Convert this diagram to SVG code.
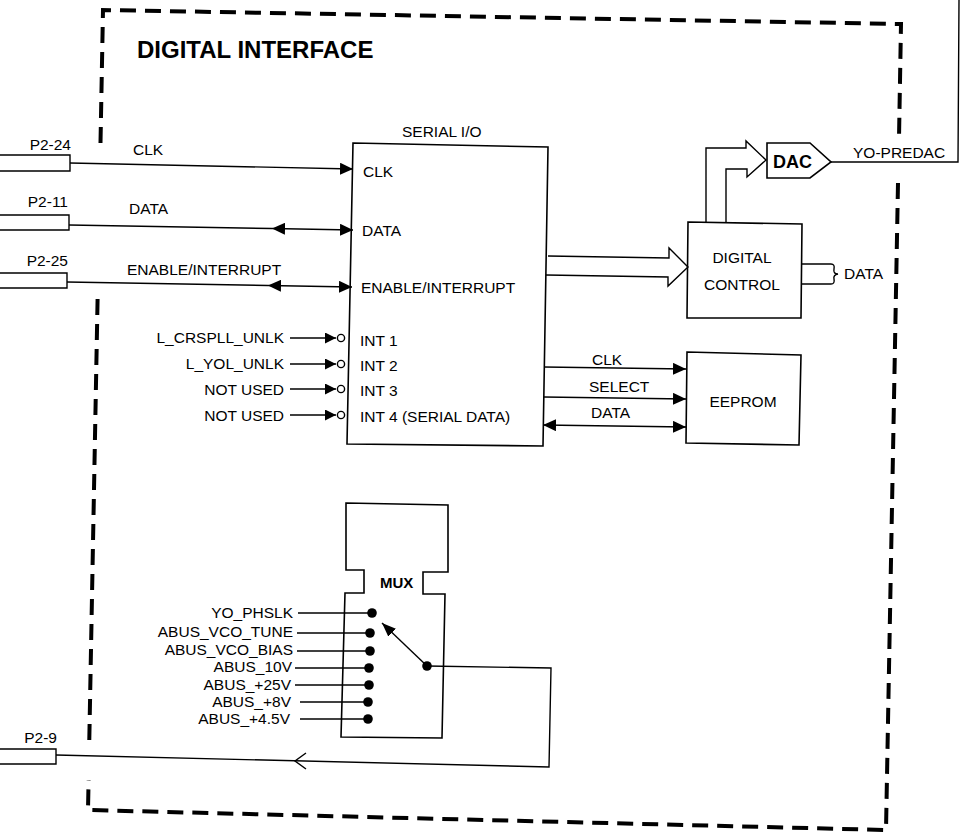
<svg xmlns="http://www.w3.org/2000/svg" width="964" height="835" viewBox="0 0 964 835">
<style>
  text { font-family: "Liberation Sans", Arial, sans-serif; font-size: 15.5px; fill: #000; }
  .b { font-weight: bold; }
  .end { text-anchor: end; }
  .mid { text-anchor: middle; }
  .ln { fill: none; stroke: #000; stroke-width: 1.4; }
  .box { fill: #fff; stroke: #000; stroke-width: 1.6; }
  .frame { fill: none; stroke: #000; stroke-width: 4; stroke-dasharray: 16 9; }
  .dot { fill: #000; }
  .ring { fill: #fff; stroke: #000; stroke-width: 1.4; }
</style>
<defs>
  <marker id="ah" viewBox="0 0 13 12" refX="13" refY="6" markerWidth="13" markerHeight="12" markerUnits="userSpaceOnUse" orient="auto-start-reverse">
    <path d="M0,0 L13,6 L0,12 z" fill="#000"/>
  </marker>
  <marker id="ahs" viewBox="0 0 11 11" refX="11" refY="5.5" markerWidth="11" markerHeight="11" markerUnits="userSpaceOnUse" orient="auto">
    <path d="M0,0 L11,5.5 L0,11 z" fill="#000"/>
  </marker>
  <marker id="ahm" viewBox="0 0 14 11" refX="14" refY="5.5" markerWidth="14" markerHeight="11" markerUnits="userSpaceOnUse" orient="auto">
    <path d="M0,0 L14,5.5 L0,11 z" fill="#000"/>
  </marker>
</defs>

<g id="frame">
  <path class="frame" d="M100.5,143 L103,10 L901,24 L899,138"/>
  <path class="frame" d="M898,183 L886,830 L88,810 L88.6,780"/>
  <path class="frame" d="M89.3,740 L97.7,293"/>
  <text class="b" x="137" y="58" style="font-size:24px">DIGITAL INTERFACE</text>
</g>

<g id="p2-24">
  <path class="ln" d="M0,155 L70,155 L70,171 L0,171"/>
  <text class="end" x="71" y="150">P2-24</text>
</g>
<g id="p2-11">
  <path class="ln" d="M0,215 L69,215 L69,230 L0,230"/>
  <text class="end" x="68" y="207">P2-11</text>
</g>
<g id="p2-25">
  <path class="ln" d="M0,273 L67,273 L67,288 L0,288"/>
  <text class="end" x="68" y="266">P2-25</text>
</g>
<g id="p2-9">
  <path class="ln" d="M0,749 L56,749 L56,764 L0,764"/>
  <text class="end" x="57" y="743">P2-9</text>
</g>

<g id="serial-io">
  <path class="box" d="M353,143 L548,147 L543,446 L347,444 Z"/>
  <text x="402" y="137">SERIAL I/O</text>
  <text x="363" y="177">CLK</text>
  <text x="362" y="236">DATA</text>
  <text x="361" y="293">ENABLE/INTERRUPT</text>
  <text x="360" y="346">INT 1</text>
  <text x="360" y="371">INT 2</text>
  <text x="360" y="396">INT 3</text>
  <text x="360" y="422">INT 4 (SERIAL DATA)</text>
</g>

<g id="digital-control">
  <path class="box" d="M688,222 L802,224 L801,318 L687,318 Z"/>
  <text class="mid" x="742" y="263">DIGITAL</text>
  <text class="mid" x="742" y="290">CONTROL</text>
</g>

<g id="dac">
  <path class="box" d="M767,143 L810,143 L831,162 L810,178 L767,178 Z"/>
  <text class="b" x="773" y="168" style="font-size:18px">DAC</text>
</g>

<g id="eeprom">
  <path class="box" d="M687,352 L801,355 L799,445 L686,443 Z"/>
  <text class="mid" x="743" y="407">EEPROM</text>
</g>

<g id="mux">
  <path class="box" d="M346,503 L448,505 L448,572 L423,572 L423,594 L445,594 L442,738 L341,737 L345,593 L364,593 L364,570 L346,570 Z"/>
  <text class="b" x="380" y="588" style="font-size:15px">MUX</text>
  <circle class="dot" cx="372" cy="613" r="4.8"/>
  <circle class="dot" cx="370" cy="633" r="4.8"/>
  <circle class="dot" cx="370" cy="651" r="4.8"/>
  <circle class="dot" cx="369" cy="668" r="4.8"/>
  <circle class="dot" cx="369" cy="685" r="4.8"/>
  <circle class="dot" cx="368" cy="702" r="4.8"/>
  <circle class="dot" cx="368" cy="719" r="4.8"/>
  <circle class="dot" cx="427" cy="666" r="4.8"/>
  <path class="ln" d="M427,666 L382,623" marker-end="url(#ahm)"/>
</g>

<g id="connectors">
  <!-- external inputs -->
  <text x="133" y="155">CLK</text>
  <path class="ln" d="M70,163 L353,169" marker-end="url(#ah)"/>
  <text x="129" y="214">DATA</text>
  <path class="ln" d="M69,225 L272,228.5"/>
  <path class="ln" d="M272,228.5 L353,230" marker-start="url(#ah)" marker-end="url(#ah)"/>
  <text x="127" y="275">ENABLE/INTERRUPT</text>
  <path class="ln" d="M67,282 L268,285.5"/>
  <path class="ln" d="M268,285.5 L352,287" marker-start="url(#ah)" marker-end="url(#ah)"/>

  <!-- interrupts -->
  <text class="end" x="284" y="343">L_CRSPLL_UNLK</text>
  <path class="ln" d="M290,338 L336,338" marker-end="url(#ahs)"/>
  <circle class="ring" cx="341" cy="338" r="3.6"/>
  <text class="end" x="284" y="369">L_YOL_UNLK</text>
  <path class="ln" d="M290,364 L336,364" marker-end="url(#ahs)"/>
  <circle class="ring" cx="341" cy="364" r="3.6"/>
  <text class="end" x="284" y="395">NOT USED</text>
  <path class="ln" d="M290,389 L336,389" marker-end="url(#ahs)"/>
  <circle class="ring" cx="341" cy="389" r="3.6"/>
  <text class="end" x="284" y="421">NOT USED</text>
  <path class="ln" d="M290,415 L336,415" marker-end="url(#ahs)"/>
  <circle class="ring" cx="341" cy="415" r="3.6"/>

  <!-- serial io to digital control (bus) -->
  <path class="ln" d="M548,256 L669,258 L669,248 L688,267 L668,286 L668,277 L546,275"/>

  <!-- digital control to DAC (bus) -->
  <path class="ln" d="M706,222 L706,148 L746,148 L746,141 L766,160 L747,177 L747,169 L726,169 L726,222"/>

  <!-- DAC output -->
  <path class="ln" d="M831,162 L958,162 L959,0"/>
  <text x="853" y="158">YO-PREDAC</text>

  <!-- digital control DATA bus -->
  <path class="ln" d="M802,264 L831,264 Q835,264 834,269 Q833,274 838,274 Q833,275 834,279 Q835,284 831,284 L802,284"/>
  <text x="844" y="279">DATA</text>

  <!-- EEPROM -->
  <text x="592" y="365">CLK</text>
  <path class="ln" d="M544,367 L686,369" marker-end="url(#ah)"/>
  <text x="589" y="392">SELECT</text>
  <path class="ln" d="M544,397 L686,399" marker-end="url(#ah)"/>
  <text x="591" y="418">DATA</text>
  <path class="ln" d="M543,425 L686,427" marker-start="url(#ah)" marker-end="url(#ah)"/>

  <!-- MUX inputs -->
  <text class="end" x="293" y="618">YO_PHSLK</text>
  <path class="ln" d="M298,613 L372,613"/>
  <text class="end" x="293" y="637">ABUS_VCO_TUNE</text>
  <path class="ln" d="M297,633 L370,633"/>
  <text class="end" x="293" y="655">ABUS_VCO_BIAS</text>
  <path class="ln" d="M297,651 L370,651"/>
  <text class="end" x="292" y="672">ABUS_10V</text>
  <path class="ln" d="M295,668 L369,668"/>
  <text class="end" x="291" y="690">ABUS_+25V</text>
  <path class="ln" d="M295,685 L369,685"/>
  <text class="end" x="291" y="707">ABUS_+8V</text>
  <path class="ln" d="M300,702 L368,702"/>
  <text class="end" x="290" y="724">ABUS_+4.5V</text>
  <path class="ln" d="M300,719 L368,719"/>

  <!-- MUX output to P2-9 -->
  <path class="ln" d="M427,666 L551,668 L549,767 L56,755"/>
  <path class="ln" d="M306,753 L295,761 L306,769"/>
</g>
</svg>
